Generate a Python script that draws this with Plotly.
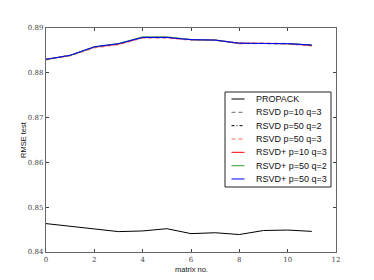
import plotly.graph_objects as go

x = list(range(12))
propack = [0.84634, 0.84574, 0.84513, 0.84455, 0.8447, 0.8452, 0.8441, 0.8443, 0.8439, 0.8448, 0.8449, 0.8446]
rsvd_p10_q3 = [0.8830, 0.8839, 0.8857, 0.8864, 0.8878, 0.8878, 0.8874, 0.8873, 0.8866, 0.8866, 0.8865, 0.8861]
rsvd_p50_q2 = [0.8830, 0.8839, 0.8858, 0.8865, 0.8879, 0.8879, 0.8874, 0.8873, 0.8866, 0.8866, 0.8865, 0.8862]
rsvd_p50_q3 = [0.8829, 0.8838, 0.8856, 0.8863, 0.8878, 0.8878, 0.8873, 0.8873, 0.8865, 0.8866, 0.8865, 0.8860]
rsvdp_p10_q3 = [0.8830, 0.8839, 0.8857, 0.8864, 0.8879, 0.8879, 0.8874, 0.8873, 0.8866, 0.8866, 0.8865, 0.8861]
rsvdp_p50_q2 = [0.8830, 0.8839, 0.8858, 0.8865, 0.8880, 0.8880, 0.8874, 0.8873, 0.8866, 0.8866, 0.8865, 0.8862]
rsvdp_p50_q3 = [0.8830, 0.8839, 0.8858, 0.8865, 0.8879, 0.8879, 0.8874, 0.8873, 0.8866, 0.8866, 0.8865, 0.8862]

series_names = ["PROPACK", "RSVD p=10 q=3", "RSVD p=50 q=2", "RSVD p=50 q=3",
                "RSVD+ p=10 q=3", "RSVD+ p=50 q=2", "RSVD+ p=50 q=3"]
series_values = [propack, rsvd_p10_q3, rsvd_p50_q2, rsvd_p50_q3,
                 rsvdp_p10_q3, rsvdp_p50_q2, rsvdp_p50_q3]
styles = [("black", "solid", 1), ("#888888", "4px,3px", 1.3), ("black", "3px,2px,1px,2px", 1),
          ("#ff9999", "4px,3px", 1.6), ("red", "solid", 1), ("#55aa55", "solid", 1.2),
          ("blue", "solid", 1)]

W, H = 374, 280
L, R, T, B = 46, 336, 28, 252

fig = go.Figure()
for name, ys, (color, dash, w) in zip(series_names, series_values, styles):
    fig.add_trace(go.Scatter(x=x, y=ys, name=name, mode="lines", showlegend=False,
                             line=dict(color=color, dash=dash, width=w)))

def px_to_paper(px, py):
    return (px - L) / (R - L), (B - py) / (B - T)

shapes = []
annotations = []
# legend box
x0, y0 = px_to_paper(225, 92)
x1, y1 = px_to_paper(331, 187)
shapes.append(dict(type="rect", xref="paper", yref="paper", x0=x0, x1=x1, y0=y1, y1=y0,
                   line=dict(color="#222222", width=1), fillcolor="white", layer="above"))
for i, (name, (color, dash, w)) in enumerate(zip(series_names, styles)):
    cy = 99 + i * 13.33
    lx0, ly = px_to_paper(231.5, cy)
    lx1, _ = px_to_paper(244.5, cy)
    shapes.append(dict(type="line", xref="paper", yref="paper", x0=lx0, x1=lx1, y0=ly, y1=ly,
                       line=dict(color=color, dash=dash, width=w), layer="above"))
    tx, _ = px_to_paper(254, cy)
    annotations.append(dict(xref="paper", yref="paper", x=tx, y=ly, text=name, showarrow=False,
                            xanchor="left", yanchor="middle",
                            font=dict(family="Liberation Sans", size=9, color="#111111")))

# axis titles
ax, ay = px_to_paper(191, 269)
annotations.append(dict(xref="paper", yref="paper", x=ax, y=ay, text="matrix no.", showarrow=False,
                        xanchor="center", yanchor="middle",
                        font=dict(family="Liberation Sans", size=7.5, color="#111111")))
bx, by = px_to_paper(23, 140)
annotations.append(dict(xref="paper", yref="paper", x=bx, y=by, text="RMSE test", showarrow=False,
                        textangle=-90, xanchor="center", yanchor="middle",
                        font=dict(family="Liberation Sans", size=7.5, color="#111111")))

tickfont = dict(family="DejaVu Serif", size=7, color="#444444")
fig.update_layout(
    width=W, height=H,
    margin=dict(l=L, r=W - R, t=T, b=H - B),
    paper_bgcolor="white", plot_bgcolor="white",
    showlegend=False,
    shapes=shapes, annotations=annotations,
    xaxis=dict(range=[0, 12], tickvals=[0, 2, 4, 6, 8, 10, 12],
               ticks="inside", ticklen=3, tickcolor="#444444",
               showline=True, linecolor="#666666", linewidth=1.3, mirror="ticks",
               showgrid=False, zeroline=False, tickfont=tickfont, automargin=False),
    yaxis=dict(range=[0.84, 0.89], tickvals=[0.84, 0.85, 0.86, 0.87, 0.88, 0.89],
               tickformat=".2f",
               ticks="inside", ticklen=3, tickcolor="#444444",
               showline=True, linecolor="#666666", linewidth=1.3, mirror="ticks",
               showgrid=False, zeroline=False, tickfont=tickfont, automargin=False),
)
fig.write_html("out.html", config={"displayModeBar": False},
               post_script="document.body.style.margin='0';document.body.style.overflow='hidden';")
